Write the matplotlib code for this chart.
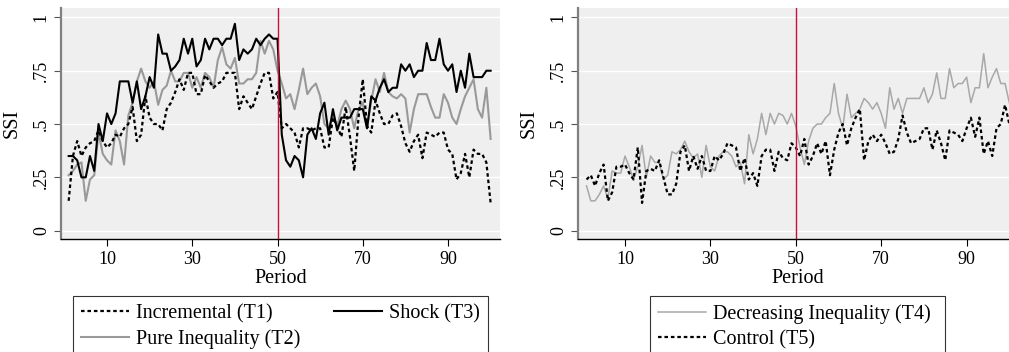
import matplotlib
matplotlib.use("Agg")
import matplotlib.pyplot as plt
import numpy as np

periods = np.arange(1, 101)

incremental_t1 = [
    .14, .35, .42, .35, .39, .41, .42, .47, .42, .39,
    .41, .45, .44, .48, .50, .58, .42, .45, .63, .53,
    .50, .50, .47, .57, .60, .65, .71, .66, .74, .74,
    .64, .64, .73, .70, .67, .69, .70, .74, .74, .74,
    .57, .63, .60, .57, .63, .69, .74, .74, .62, .65,
    .48, .50, .48, .46, .39, .48, .48, .47, .48, .48,
    .39, .39, .53, .49, .44, .58, .44, .28, .53, .71,
    .49, .46, .61, .55, .50, .50, .54, .55, .49, .41,
    .37, .42, .45, .34, .46, .45, .44, .46, .46, .38,
    .36, .24, .27, .36, .25, .38, .36, .36, .32, .13,
]
pure_inequality_t2 = [
    .26, .28, .31, .32, .14, .24, .26, .46, .36, .33,
    .31, .47, .42, .31, .54, .60, .70, .76, .70, .67,
    .70, .59, .66, .68, .75, .70, .70, .74, .74, .67,
    .72, .67, .74, .72, .67, .80, .86, .78, .76, .81,
    .69, .69, .71, .71, .74, .89, .83, .89, .85, .75,
    .69, .62, .64, .57, .66, .76, .64, .67, .69, .63,
    .50, .48, .54, .49, .57, .61, .57, .48, .57, .60,
    .48, .61, .71, .65, .74, .65, .63, .62, .64, .62,
    .46, .57, .64, .64, .64, .58, .53, .53, .64, .60,
    .53, .50, .57, .63, .67, .71, .57, .53, .67, .43,
]
shock_t3 = [
    .35, .35, .33, .25, .25, .35, .28, .50, .42, .55,
    .50, .55, .70, .70, .70, .60, .70, .57, .63, .72,
    .67, .92, .83, .83, .75, .77, .80, .90, .83, .90,
    .77, .80, .90, .85, .90, .90, .87, .90, .90, .97,
    .80, .85, .83, .85, .90, .87, .90, .92, .90, .90,
    .45, .33, .30, .35, .33, .25, .45, .48, .43, .55,
    .60, .45, .57, .47, .53, .53, .53, .57, .57, .57,
    .48, .63, .61, .67, .71, .65, .67, .67, .78, .75,
    .78, .72, .75, .75, .88, .80, .80, .90, .78, .75,
    .78, .65, .75, .67, .83, .72, .72, .72, .75, .75,
]
decreasing_t4 = [
    .21, .14, .14, .17, .21, .15, .28, .27, .27, .35,
    .30, .24, .30, .40, .25, .35, .32, .32, .24, .26,
    .37, .36, .38, .42, .37, .34, .36, .25, .40, .30,
    .28, .35, .37, .37, .35, .30, .32, .22, .45, .36,
    .43, .55, .45, .55, .50, .55, .54, .50, .55, .49,
    .39, .31, .42, .48, .50, .50, .53, .55, .69, .55,
    .48, .64, .53, .55, .57, .62, .60, .57, .60, .55,
    .48, .67, .57, .62, .55, .62, .62, .62, .62, .67,
    .60, .64, .74, .62, .62, .76, .67, .69, .69, .72,
    .60, .67, .67, .83, .67, .72, .76, .69, .69, .60,
]
control_t5 = [
    .24, .26, .21, .27, .31, .14, .18, .30, .30, .31,
    .27, .24, .39, .13, .28, .29, .28, .33, .25, .17,
    .17, .22, .37, .40, .28, .35, .29, .35, .28, .28,
    .35, .33, .36, .41, .40, .39, .28, .34, .24, .27,
    .21, .35, .38, .38, .28, .37, .34, .33, .41, .39,
    .35, .43, .31, .35, .41, .36, .42, .26, .38, .46,
    .50, .40, .48, .53, .57, .33, .42, .45, .42, .45,
    .41, .36, .37, .43, .54, .46, .41, .42, .43, .48,
    .48, .38, .47, .41, .33, .47, .46, .45, .42, .48,
    .53, .44, .53, .36, .42, .35, .48, .50, .59, .50,
]

ytick_vals = [0, .25, .5, .75, 1]
ytick_labels = ["0", ".25", ".5", ".75", "1"]
xtick_vals = [10, 30, 50, 70, 90]
break_period = 50

plt.rcParams["font.family"] = "serif"
plt.rcParams["font.serif"] = ["Liberation Serif", "DejaVu Serif"]

W, H = 1009, 352
fig = plt.figure(figsize=(W / 100, H / 100), dpi=100)

BG = "#efefef"
RED = "#c8103e"
GRAY2 = "#999999"
GRAY4 = "#a8a8a8"
DOT = (0, (1.6, 1.3))


def style_axes(ax, xlim):
    ax.set_facecolor(BG)
    ax.set_xlim(*xlim)
    ax.set_ylim(-0.039, 1.044)
    ax.set_yticks(ytick_vals)
    ax.set_yticklabels(ytick_labels, rotation=90, va="center")
    ax.set_xticks(xtick_vals)
    ax.tick_params(axis="both", labelsize=13, length=5, width=0.8, direction="out")
    ax.tick_params(axis="y", pad=3, color="#555555")
    for y in ytick_vals:
        ax.axhline(y, color="white", lw=1.0, zorder=0.5)
    ax.spines["top"].set_visible(False)
    ax.spines["right"].set_visible(False)
    ax.spines["left"].set_color("#808080")
    ax.spines["left"].set_linewidth(1.6)
    ax.spines["bottom"].set_color("black")
    ax.spines["bottom"].set_linewidth(1.0)
    ax.axvline(break_period, color=RED, lw=1.0, zorder=3)
    ax.set_xlabel("Period", fontsize=14.5, labelpad=1)
    ax.set_ylabel("SSI", fontsize=14.5, labelpad=8)


ax1 = fig.add_axes([61 / W, 1 - 239 / H, 439 / W, 231 / H])
style_axes(ax1, (-0.8, 102.2))
ax1.plot(periods, pure_inequality_t2, color=GRAY2, lw=1.5, label="Pure Inequality (T2)")
ax1.plot(periods, incremental_t1, color="black", lw=1.6, ls=DOT, label="Incremental (T1)")
ax1.plot(periods, shock_t3, color="black", lw=1.5, label="Shock (T3)")

ax2 = fig.add_axes([578 / W, 1 - 239 / H, 439 / W, 231 / H])
style_axes(ax2, (-1.0, 101.8))
ax2.plot(periods, decreasing_t4, color=GRAY4, lw=1.1, label="Decreasing Inequality (T4)")
ax2.plot(periods, control_t5, color="black", lw=1.6, ls=DOT, label="Control (T5)")

legend_kw = dict(loc="upper left", mode="expand", fontsize=14.5, frameon=True,
                 fancybox=False, edgecolor="black", borderpad=0.4, handlelength=2.4,
                 handletextpad=0.35, labelspacing=0.32, borderaxespad=0)

h1, l1 = ax1.get_legend_handles_labels()
order = [1, 0, 2]
leg1 = fig.legend([h1[i] for i in order], [l1[i] for i in order], ncol=2,
                  bbox_to_anchor=(73 / W, 1 - 296 / H, 415 / W, 0.0),
                  columnspacing=1.0, **legend_kw)
leg1.get_frame().set_linewidth(0.8)

h2, l2 = ax2.get_legend_handles_labels()
leg2 = fig.legend(h2, l2, ncol=1,
                  bbox_to_anchor=(650 / W, 1 - 296 / H, 295 / W, 0.0),
                  **legend_kw)
leg2.get_frame().set_linewidth(0.8)

fig.savefig("out.png", dpi=100, facecolor="white")
